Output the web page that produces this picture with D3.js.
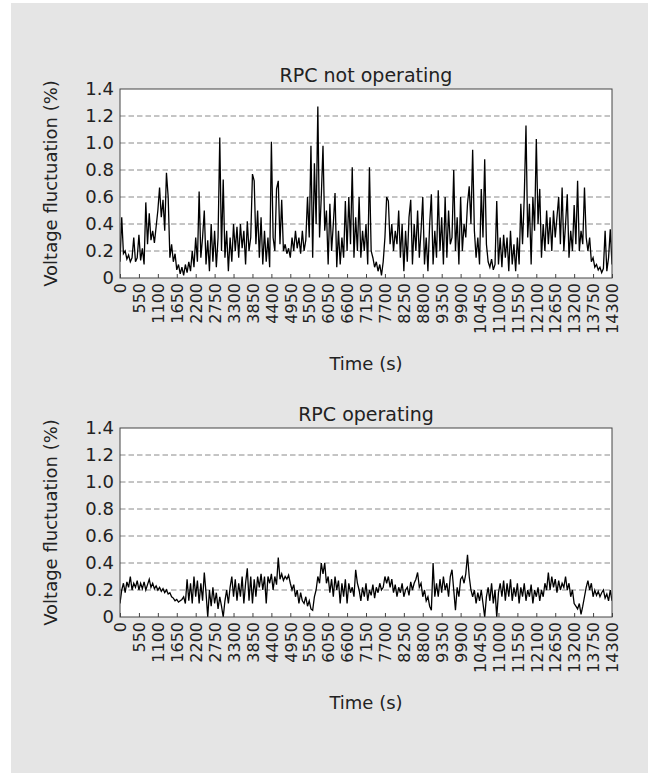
<!DOCTYPE html>
<html>
<head>
<meta charset="utf-8">
<script src="https://cdn.jsdelivr.net/npm/d3@7"></script>
<style>
    body { margin: 0; background: #fff; }
    svg { display: block; font-family: "DejaVu Sans", sans-serif; }
</style>
</head>
<body>
<div id="chart"></div>
<script>
// seconds between two samples of the recorded series
const sampleStep = 50;

const timeTicks = [0, 550, 1100, 1650, 2200, 2750, 3300, 3850, 4400, 4950, 5500, 6050, 6600, 7150,
    7700, 8250, 8800, 9350, 9900, 10450, 11000, 11550, 12100, 12650, 13200, 13750, 14300];
const fluctuationTicks = [0, 0.2, 0.4, 0.6, 0.8, 1.0, 1.2, 1.4];
const gridValues = [0.2, 0.4, 0.6, 0.8, 1.0, 1.2];

// Voltage fluctuation (%), RPC switched off
const notOperating = [
    0.12, 0.45, 0.18, 0.2, 0.14, 0.17, 0.12, 0.15, 0.3, 0.12, 0.15,
    0.32, 0.13, 0.22, 0.1, 0.56, 0.25, 0.48, 0.28, 0.35, 0.26, 0.38,
    0.5, 0.67, 0.45, 0.58, 0.35, 0.78, 0.6, 0.15, 0.25, 0.12, 0.18,
    0.06, 0.1, 0.03, 0.08, 0.02, 0.1, 0.04, 0.12, 0.05, 0.2, 0.08,
    0.3, 0.12, 0.64, 0.15, 0.3, 0.5, 0.1, 0.28, 0.05, 0.4, 0.12,
    0.35, 0.08, 0.3, 1.04, 0.2, 0.73, 0.15, 0.35, 0.05, 0.3, 0.12,
    0.4, 0.2, 0.38, 0.15, 0.4, 0.22, 0.35, 0.1, 0.42, 0.2, 0.3,
    0.77, 0.72, 0.25, 0.5, 0.15, 0.45, 0.1, 0.35, 0.12, 0.3, 0.08,
    1.01, 0.3, 0.2, 0.66, 0.72, 0.25, 0.58, 0.2, 0.25, 0.18, 0.22,
    0.15, 0.3, 0.2, 0.35, 0.22, 0.3, 0.18, 0.35, 0.2, 0.28, 0.6,
    0.3, 0.98, 0.15, 0.85, 0.4, 1.27, 0.3, 0.6, 0.98, 0.35, 0.5,
    0.1, 0.55, 0.2, 0.4, 0.63, 0.08, 0.35, 0.1, 0.3, 0.15, 0.57,
    0.2, 0.6, 0.25, 0.82, 0.15, 0.45, 0.2, 0.6, 0.15, 0.35, 0.2,
    0.4, 0.1, 0.82, 0.2, 0.15, 0.08, 0.12, 0.05, 0.1, 0.02, 0.12,
    0.3, 0.6, 0.57, 0.25, 0.4, 0.2, 0.35, 0.25, 0.5, 0.15, 0.4,
    0.05, 0.35, 0.12, 0.45, 0.58, 0.1, 0.4, 0.2, 0.5, 0.15, 0.35,
    0.6, 0.1, 0.3, 0.05, 0.4, 0.62, 0.1, 0.35, 0.15, 0.65, 0.2,
    0.45, 0.1, 0.6, 0.15, 0.5, 0.25, 0.3, 0.8, 0.2, 0.45, 0.1,
    0.6, 0.2, 0.4, 0.3, 0.55, 0.68, 0.4, 0.95, 0.35, 0.15, 0.3,
    0.1, 0.66, 0.3, 0.88, 0.25, 0.12, 0.08, 0.14, 0.06, 0.1, 0.57,
    0.1, 0.3, 0.08, 0.32, 0.15, 0.3, 0.05, 0.35, 0.1, 0.25, 0.05,
    0.3, 0.1, 0.55, 0.25, 0.6, 1.13, 0.3, 0.55, 0.1, 0.6, 0.35,
    1.03, 0.4, 0.66, 0.15, 0.4, 0.2, 0.5, 0.25, 0.45, 0.2, 0.5,
    0.3, 0.45, 0.6, 0.25, 0.67, 0.2, 0.4, 0.62, 0.15, 0.35, 0.2,
    0.54, 0.25, 0.72, 0.2, 0.35, 0.25, 0.67, 0.3, 0.2, 0.3, 0.12,
    0.15, 0.08, 0.1, 0.06, 0.08, 0.04, 0.07, 0.35, 0.05, 0.15, 0.36,
    0.1
];

// Voltage fluctuation (%), RPC switched on
const operating = [
    0.1, 0.2, 0.25, 0.18, 0.26, 0.22, 0.3, 0.2, 0.25, 0.22, 0.27,
    0.2, 0.25, 0.21, 0.26, 0.2, 0.24, 0.28, 0.22, 0.25, 0.21, 0.23,
    0.2, 0.22, 0.19, 0.21, 0.18, 0.2, 0.17, 0.18, 0.15, 0.14, 0.12,
    0.13, 0.11, 0.12, 0.13, 0.15, 0.1, 0.28, 0.12, 0.25, 0.1, 0.3,
    0.15, 0.27, 0.1, 0.25, 0.12, 0.33, 0.18, 0.0, 0.2, 0.08, 0.22,
    0.1, 0.18, 0.06, 0.15, 0.08, 0.0, 0.12, 0.2, 0.1, 0.22, 0.3,
    0.15, 0.28, 0.12, 0.25, 0.15, 0.3, 0.1, 0.25, 0.36, 0.12, 0.3,
    0.1, 0.28, 0.15, 0.3, 0.22, 0.32, 0.2, 0.3, 0.1, 0.3, 0.25,
    0.32, 0.2, 0.3, 0.24, 0.44, 0.28, 0.32, 0.27, 0.3, 0.28, 0.31,
    0.25, 0.2, 0.24, 0.15, 0.2, 0.1, 0.18, 0.12, 0.1, 0.15, 0.08,
    0.12, 0.06, 0.05, 0.15, 0.2, 0.3, 0.25, 0.4, 0.32, 0.4, 0.25,
    0.3, 0.18, 0.28, 0.15, 0.3, 0.2, 0.27, 0.1, 0.25, 0.15, 0.28,
    0.1, 0.25, 0.18, 0.22, 0.15, 0.35, 0.25, 0.2, 0.12, 0.22, 0.15,
    0.25, 0.12, 0.2, 0.16, 0.24, 0.14, 0.22, 0.18, 0.25, 0.2, 0.22,
    0.3, 0.25, 0.3, 0.22, 0.28, 0.18, 0.24, 0.15, 0.22, 0.18, 0.25,
    0.15, 0.2, 0.22, 0.16, 0.26, 0.2, 0.25, 0.28, 0.33, 0.22, 0.25,
    0.15, 0.2, 0.12, 0.15, 0.08, 0.05, 0.4, 0.15, 0.25, 0.15, 0.28,
    0.18, 0.3, 0.2, 0.25, 0.15, 0.3, 0.35, 0.2, 0.05, 0.22, 0.15,
    0.28, 0.3, 0.25, 0.32, 0.46, 0.3, 0.2, 0.15, 0.2, 0.1, 0.18,
    0.12, 0.2, 0.1, 0.0, 0.15, 0.22, 0.12, 0.25, 0.1, 0.2, 0.0,
    0.18, 0.25, 0.15, 0.27, 0.12, 0.25, 0.15, 0.28, 0.12, 0.22, 0.15,
    0.25, 0.1, 0.22, 0.15, 0.25, 0.12, 0.2, 0.15, 0.24, 0.1, 0.2,
    0.15, 0.22, 0.12, 0.2, 0.15, 0.25, 0.2, 0.33, 0.2, 0.3, 0.22,
    0.28, 0.18, 0.27, 0.2, 0.25, 0.22, 0.3, 0.2, 0.25, 0.15, 0.2,
    0.1, 0.08, 0.06, 0.1, 0.02, 0.08, 0.15, 0.22, 0.27, 0.2, 0.25,
    0.15, 0.2, 0.16, 0.19, 0.15, 0.18, 0.2, 0.14, 0.17, 0.12, 0.2,
    0.12
];

const width = 648;
const height = 773;
const plotLeft = 120;
const plotRight = 612;
const plotHeight = 189;

const svg = d3.select('#chart')
    .append('svg')
    .attr('width', width)
    .attr('height', height);

// grey card behind both panels
svg.append('rect')
    .attr('x', 11)
    .attr('y', 3)
    .attr('width', width - 11)
    .attr('height', height - 3)
    .attr('fill', '#e5e5e5');

function drawPanel(title, values, top, id) {
    const bottom = top + plotHeight;
    const x = d3.scaleLinear().domain([0, 14300]).range([plotLeft, plotRight]);
    const y = d3.scaleLinear().domain([0, 1.4]).range([bottom, top]);

    const g = svg.append('g');

    g.append('rect')
        .attr('x', plotLeft)
        .attr('y', top)
        .attr('width', plotRight - plotLeft)
        .attr('height', plotHeight)
        .attr('fill', '#fff');

    // Dashed grid
    g.append('g')
        .selectAll('line')
        .data(gridValues)
        .enter()
        .append('line')
        .attr('x1', plotLeft)
        .attr('x2', plotRight)
        .attr('y1', d => y(d))
        .attr('y2', d => y(d))
        .attr('stroke', '#8a8a8a')
        .attr('stroke-width', 1)
        .attr('stroke-dasharray', '5.5,3');

    g.append('clipPath')
        .attr('id', 'clip-' + id)
        .append('rect')
        .attr('x', plotLeft)
        .attr('y', top)
        .attr('width', plotRight - plotLeft)
        .attr('height', plotHeight);

    const line = d3.line()
        .x((d, i) => x(i * sampleStep))
        .y(d => y(d));

    g.append('path')
        .datum(values)
        .attr('clip-path', `url(#clip-${id})`)
        .attr('fill', 'none')
        .attr('stroke', '#000')
        .attr('stroke-width', 1.3)
        .attr('d', line);

    // X axis, rotated labels
    const xAxis = g.append('g')
        .attr('transform', `translate(0,${bottom})`)
        .call(d3.axisBottom(x).tickValues(timeTicks).tickSize(-4).tickFormat(d3.format('d')));
    xAxis.select('.domain').remove();
    xAxis.selectAll('line').attr('stroke', '#444');
    xAxis.selectAll('text')
        .attr('transform', 'rotate(-90)')
        .attr('x', -5)
        .attr('y', 0)
        .attr('dy', '0.36em')
        .attr('text-anchor', 'end')
        .attr('fill', '#222')
        .attr('font-size', '16px')
        .attr('font-family', '"DejaVu Sans", sans-serif');

    // Y axis
    const yAxis = g.append('g')
        .attr('transform', `translate(${plotLeft},0)`)
        .call(d3.axisLeft(y).tickValues(fluctuationTicks).tickSize(0).tickPadding(6)
            .tickFormat(d => d === 0 ? '0' : d3.format('.1f')(d)));
    yAxis.select('.domain').remove();
    yAxis.selectAll('text')
        .attr('fill', '#222')
        .attr('font-size', '18px')
        .attr('font-family', '"DejaVu Sans", sans-serif');

    // Frame
    g.append('rect')
        .attr('x', plotLeft)
        .attr('y', top)
        .attr('width', plotRight - plotLeft)
        .attr('height', plotHeight)
        .attr('fill', 'none')
        .attr('stroke', '#444')
        .attr('stroke-width', 1);

    g.append('text')
        .attr('x', (plotLeft + plotRight) / 2)
        .attr('y', top - 7.5)
        .attr('text-anchor', 'middle')
        .attr('font-size', '19px')
        .attr('fill', '#222')
        .text(title);

    g.append('text')
        .attr('x', (plotLeft + plotRight) / 2)
        .attr('y', bottom + 92)
        .attr('text-anchor', 'middle')
        .attr('font-size', '18px')
        .attr('fill', '#222')
        .text('Time (s)');

    g.append('text')
        .attr('transform', `translate(57,${(top + bottom) / 2}) rotate(-90)`)
        .attr('text-anchor', 'middle')
        .attr('font-size', '18px')
        .attr('fill', '#222')
        .text('Voltage fluctuation (%)');
}

drawPanel('RPC not operating', notOperating, 89, 'off');
drawPanel('RPC operating', operating, 428, 'on');
</script>
</body>
</html>
